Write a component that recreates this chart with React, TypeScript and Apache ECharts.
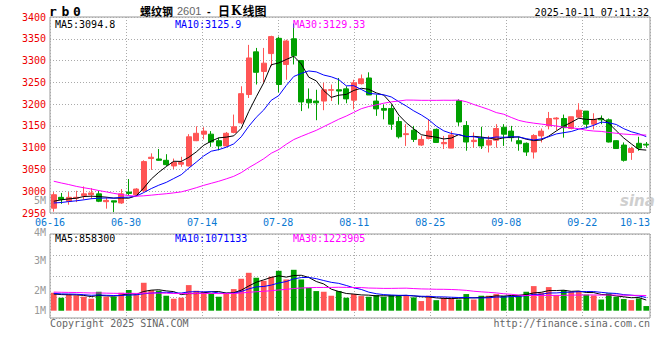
import React, { useEffect, useRef } from "react";
import * as echarts from "echarts";

// ---- data ----
const dates = [
  "06-16","06-17","06-18","06-19","06-20","06-23","06-24","06-25","06-26","06-27",
  "06-30","07-01","07-02","07-03","07-04","07-07","07-08","07-09","07-10","07-11",
  "07-14","07-15","07-16","07-17","07-18","07-21","07-22","07-23","07-24","07-25",
  "07-28","07-29","07-30","07-31","08-01","08-04","08-05","08-06","08-07","08-08",
  "08-11","08-12","08-13","08-14","08-15","08-18","08-19","08-20","08-21","08-22",
  "08-25","08-26","08-27","08-28","08-29","09-01","09-02","09-03","09-04","09-05",
  "09-08","09-09","09-10","09-11","09-12","09-15","09-16","09-17","09-18","09-19",
  "09-22","09-23","09-24","09-25","09-26","09-29","09-30","10-09","10-10","10-13",
];
const open = [
  2961,2986,2977,2984,2990,2992,2994,2976,2978,2973,
  2998,2992,3001,3075,3074,3071,3058,3062,3058,3116,
  3131,3131,3116,3104,3135,3157,3222,3320,3275,3316,
  3351,3291,3350,3300,3211,3207,3207,3232,3233,3235,
  3209,3247,3260,3207,3190,3190,3160,3130,3140,3106,
  3121,3142,3109,3099,3208,3151,3114,3122,3106,3117,
  3147,3138,3116,3110,3090,3127,3150,3166,3167,3144,
  3170,3184,3154,3167,3164,3116,3106,3089,3110,3108,
];
const close = [
  2992,2981,2986,2986,2994,2996,2977,2979,2975,2994,
  2995,3005,3068,3078,3071,3061,3066,3066,3125,3133,
  3138,3113,3104,3133,3148,3224,3306,3273,3294,3355,
  3245,3345,3311,3205,3203,3203,3233,3233,3230,3212,
  3249,3258,3221,3189,3186,3154,3125,3132,3119,3119,
  3138,3112,3112,3129,3159,3113,3117,3104,3117,3144,
  3131,3123,3109,3090,3128,3138,3167,3168,3146,3171,
  3186,3154,3165,3164,3113,3098,3071,3098,3099,3106,
];
const low = [
  2953,2971,2969,2975,2981,2982,2975,2960,2952,2971,
  2990,2990,2998,3049,3070,3058,3051,3056,3057,3115,
  3119,3102,3094,3102,3133,3154,3214,3245,3249,3287,
  3227,3256,3291,3184,3190,3163,3186,3207,3199,3202,
  3188,3245,3221,3173,3165,3141,3121,3104,3113,3104,
  3119,3112,3097,3099,3150,3093,3100,3097,3089,3100,
  3104,3114,3093,3081,3075,3112,3142,3140,3123,3142,
  3169,3144,3142,3154,3112,3098,3068,3072,3093,3100,
];
const high = [
  2998,2996,2998,3001,3011,3007,3001,2986,2978,3005,
  3028,3007,3071,3087,3097,3085,3075,3079,3131,3149,
  3147,3138,3123,3136,3176,3241,3336,3329,3329,3357,
  3355,3348,3385,3300,3236,3233,3249,3245,3260,3241,
  3256,3268,3273,3222,3199,3199,3171,3154,3150,3127,
  3165,3144,3127,3138,3211,3161,3135,3148,3127,3154,
  3154,3150,3125,3112,3131,3144,3182,3170,3176,3171,
  3202,3184,3179,3174,3167,3117,3112,3102,3125,3113,
];
const volume = [
  1448000,1046000,1314000,1233000,1126000,965000,1528000,1126000,1126000,1448000,
  1662000,1260000,2252000,1662000,1609000,1206000,965000,1046000,2064000,1609000,
  1528000,1394000,1126000,1448000,1743000,2574000,3056000,2654000,2413000,2735000,
  3217000,2520000,3298000,2520000,1850000,1582000,1528000,1206000,1582000,1046000,
  1341000,1180000,1126000,1260000,1126000,1260000,1260000,1260000,1072000,777000,
  1206000,850000,1050000,1000000,900000,1341000,900000,1206000,1206000,1341000,
  1200000,1206000,1250000,1528000,1984000,1450000,1903000,1260000,1662000,1528000,
  1582000,1300000,1230000,900000,1400000,1126000,938000,858000,992000,375000,
];
// sessions before 06-16 (not drawn) — estimated from where the MA lines start
const priorCloses = [
  3100,3095,3110,3090,3080,3085,3070,3078,3075,3067,
  3050,3040,3032,3020,3015,3005,2998,2990,2982,2975,
  2970,2965,2968,2972,2970,2965,2975,2978,2975,
];
const priorVolumes = [
  1500000,1620000,1480000,1700000,1550000,1420000,1600000,1530000,1650000,1480000,
  1560000,1450000,1620000,1580000,1500000,1610000,1490000,1540000,1590000,1530000,
  1500000,1420000,1380000,1520000,1430000,1300000,1380000,1290000,1330000,
];
const dateTickLabels = ["06-16","06-30","07-14","07-28","08-11","08-25","09-08","09-22","10-13"];
const volTickLabels = ["5M","4M","3M","2M","1M"];
const priceLegend = ["MA5:3094.8", "MA10:3125.9", "MA30:3129.33"];
const volumeLegend = ["MA5:858300", "MA10:1071133", "MA30:1223905"];

const RED = "#ff5555";
const GREEN = "#00a000";
const MONO = "'DejaVu Sans Mono', 'Liberation Mono', monospace";
const GRIDC = "#aaaaaa";

function movingAverage(values: number[], prior: number[], n: number): number[] {
  const all = prior.concat(values);
  const off = prior.length;
  return values.map((_, i) => {
    let s = 0;
    for (let k = 0; k < n; k++) s += all[off + i - k];
    return +(s / n).toFixed(2);
  });
}

export default function App() {
  const ref = useRef<HTMLDivElement>(null);

  useEffect(() => {
    if (!ref.current) return;
    const chart = echarts.init(ref.current, undefined, { renderer: "svg" });

    const candles = dates.map((_, i) => [open[i], close[i], low[i], high[i]]);
    const volBars = volume.map((v, i) => ({
      value: v,
      itemStyle: { color: close[i] >= open[i] ? RED : GREEN },
    }));
    const maColors = ["#000000", "#0000ff", "#ff00ff"];
    const periods = [5, 10, 30];

    const priceMA = periods.map((n, k) => ({
      type: "line",
      xAxisIndex: 0,
      yAxisIndex: 0,
      data: movingAverage(close, priorCloses, n),
      symbol: "none",
      lineStyle: { color: maColors[k], width: 1 },
      z: 5,
    }));
    const volMA = periods.map((n, k) => ({
      type: "line",
      xAxisIndex: 1,
      yAxisIndex: 1,
      data: movingAverage(volume, priorVolumes, n),
      symbol: "none",
      lineStyle: { color: maColors[k], width: 1 },
      z: 5,
    }));

    const dotted = { show: true, lineStyle: { color: GRIDC, type: [1, 2] as any, width: 1 } };
    const hiddenCat = (gi: number) => ({
      type: "category",
      gridIndex: gi,
      data: dates,
      boundaryGap: true,
      axisLine: { show: false },
      axisTick: { show: false },
      axisLabel: { show: false },
      splitLine: { show: false },
    });
    // date gridlines sit every 10 sessions, ~76px apart in the reference
    const gridMax = 78.9;

    const volLabelY = [200.7, 232, 260.7, 290.7, 310.7];

    const graphics: any[] = [];
    const rbChars = ["r", "b", "0"];
    const rbX = [49, 61.5, 73];
    rbChars.forEach((c, k) => graphics.push({
      type: "text", x: rbX[k], y: 11.5,
      style: { text: c, fontFamily: MONO, fontWeight: "bold", fontSize: 13, fill: "#000", verticalAlign: "middle" },
    }));
    graphics.push(
      {
        type: "text", x: 140, y: 10.5,
        style: { text: "螺纹钢", fontFamily: "'Noto Sans CJK SC'", fontWeight: "bold", fontSize: 11, fill: "#000", verticalAlign: "middle" },
      },
      {
        type: "text", x: 177, y: 10.5,
        style: { text: "2601", fontFamily: "'Liberation Sans', sans-serif", fontSize: 11, fill: "#666", verticalAlign: "middle" },
      },
      {
        type: "text", x: 207, y: 10.5,
        style: { text: "-", fontFamily: "'Liberation Sans', sans-serif", fontWeight: "bold", fontSize: 11, fill: "#000", verticalAlign: "middle" },
      },
      {
        type: "text", x: 218, y: 10.5,
        style: {
          text: "{a|日}{k|K}{a|线图}",
          verticalAlign: "middle",
          rich: {
            a: { fontFamily: "'Noto Sans CJK SC'", fontSize: 12, fill: "#000", fontWeight: "bold" },
            k: { fontFamily: "'DejaVu Serif', serif", fontSize: 12, fill: "#000", fontWeight: "bold", padding: [0, 1, 0, 1] },
          },
        },
      },
      {
        type: "text", x: 649, y: 12,
        style: { text: "2025-10-11 07:11:32", fontFamily: MONO, fontSize: 10, fill: "#000", align: "right", verticalAlign: "middle" },
      },
      {
        type: "text", x: 620, y: 201, z: 0,
        style: { text: "sina", fontFamily: "'DejaVu Sans'", fontStyle: "italic", fontWeight: "bold", fontSize: 15, fill: "#cfcfcf", verticalAlign: "middle" },
      },
      {
        type: "text", x: 50, y: 323.5,
        style: { text: "Copyright 2025 SINA.COM", fontFamily: MONO, fontSize: 10, fill: "#666", verticalAlign: "middle" },
      },
      {
        type: "text", x: 650, y: 323.5,
        style: { text: "http://finance.sina.com.cn", fontFamily: MONO, fontSize: 10, fill: "#666", align: "right", verticalAlign: "middle" },
      },
    );
    const legendX = [55, 175, 293];
    priceLegend.forEach((t, k) => graphics.push({
      type: "text", x: legendX[k], y: 24.5, z: 10,
      style: { text: t, fontFamily: MONO, fontSize: 10, fill: maColors[k], verticalAlign: "middle" },
    }));
    volumeLegend.forEach((t, k) => graphics.push({
      type: "text", x: legendX[k], y: 238.5, z: 10,
      style: { text: t, fontFamily: MONO, fontSize: 10, fill: maColors[k], verticalAlign: "middle" },
    }));
    volTickLabels.forEach((t, k) => graphics.push({
      type: "text", x: 46, y: volLabelY[k],
      style: { text: t, fontFamily: MONO, fontSize: 10, fill: "#999", align: "right", verticalAlign: "middle" },
    }));

    chart.setOption({
      animation: false,
      backgroundColor: "#fff",
      grid: [
        { left: 50, right: 10, top: 17, height: 196, show: true, borderColor: "#999", borderWidth: 1 },
        { left: 50, right: 10, top: 234, height: 84, show: true, borderColor: "#999", borderWidth: 1 },
      ],
      xAxis: [
        hiddenCat(0),
        hiddenCat(1),
        {
          type: "value", gridIndex: 0, min: 0, max: gridMax, interval: 10, position: "bottom",
          axisLine: { show: false }, axisTick: { show: false },
          axisLabel: {
            color: "#0a78d2", fontFamily: MONO, fontSize: 10, margin: 4,
            formatter: (v: number) => dateTickLabels[Math.round(v / 10)] ?? "",
            alignMaxLabel: "right",
          },
          splitLine: dotted,
        },
        {
          type: "value", gridIndex: 1, min: 0, max: gridMax, interval: 10,
          axisLine: { show: false }, axisTick: { show: false }, axisLabel: { show: false },
          splitLine: dotted,
        },
      ],
      yAxis: [
        {
          type: "value", gridIndex: 0, min: 2950, max: 3400, interval: 50,
          axisLine: { show: false }, axisTick: { show: false },
          axisLabel: { color: "#ee0000", fontFamily: MONO, fontSize: 10, margin: 4, formatter: (v: number) => String(v) },
          splitLine: dotted,
        },
        {
          type: "value", gridIndex: 1, min: -589000, max: 6185000,
          axisLine: { show: false }, axisTick: { show: false }, axisLabel: { show: false },
          splitLine: { show: false },
        },
        {
          type: "value", gridIndex: 1, min: 0, max: 4, interval: 1,
          axisLine: { show: false }, axisTick: { show: false }, axisLabel: { show: false },
          splitLine: dotted,
        },
      ],
      series: [
        {
          type: "candlestick",
          xAxisIndex: 0, yAxisIndex: 0,
          data: candles,
          barWidth: "76%",
          itemStyle: { color: RED, color0: GREEN, borderColor: RED, borderColor0: GREEN, borderWidth: 1 },
          z: 3,
        },
        ...priceMA,
        {
          type: "bar",
          xAxisIndex: 1, yAxisIndex: 1,
          data: volBars,
          barWidth: "76%",
          z: 3,
        },
        ...volMA,
      ],
      graphic: graphics,
    } as any);

    return () => chart.dispose();
  }, []);

  return (
    <div
      ref={ref}
      style={{ position: "fixed", left: 0, top: 0, width: 660, height: 360, background: "#fff" }}
    />
  );
}
